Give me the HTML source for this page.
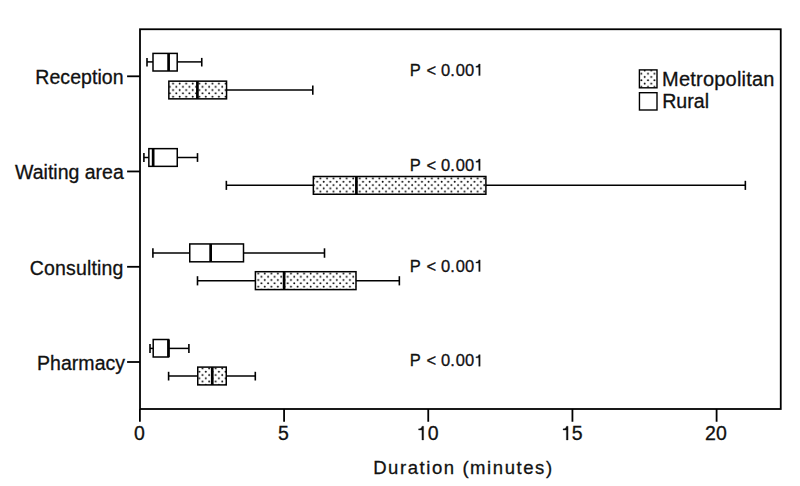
<!DOCTYPE html>
<html><head><meta charset="utf-8"><style>
html,body{margin:0;padding:0;background:#fff;}
body{width:800px;height:486px;overflow:hidden;font-family:"Liberation Sans",sans-serif;}
svg{display:block;}
</style></head><body>
<svg width="800" height="486" viewBox="0 0 800 486">
<defs><pattern id="dots" patternUnits="userSpaceOnUse" x="171.5" y="81.9" width="6.55" height="6.55"><circle cx="1.6" cy="1.6" r="0.95" fill="#000"/><circle cx="4.875" cy="4.875" r="0.95" fill="#000"/></pattern></defs>
<g stroke="#000" fill="none" stroke-linecap="butt">
<rect x="140" y="29.25" width="640.75" height="379.75" fill="none" stroke-width="1.8"/>
<line x1="139.9" y1="409" x2="139.9" y2="421.75" stroke-width="1.8"/>
<line x1="284.08" y1="409" x2="284.08" y2="421.75" stroke-width="1.8"/>
<line x1="428.25" y1="409" x2="428.25" y2="421.75" stroke-width="1.8"/>
<line x1="572.43" y1="409" x2="572.43" y2="421.75" stroke-width="1.8"/>
<line x1="716.6" y1="409" x2="716.6" y2="421.75" stroke-width="1.8"/>
<line x1="127.1" y1="76.3" x2="140" y2="76.3" stroke-width="1.8"/>
<line x1="127.1" y1="171.45" x2="140" y2="171.45" stroke-width="1.8"/>
<line x1="127.1" y1="266.8" x2="140" y2="266.8" stroke-width="1.8"/>
<line x1="127.1" y1="362.0" x2="140" y2="362.0" stroke-width="1.8"/>
<line x1="147.0" y1="61.9" x2="153.0" y2="61.9" stroke-width="1.5"/>
<line x1="147.0" y1="57.9" x2="147.0" y2="66.5" stroke-width="1.6"/>
<line x1="177.2" y1="61.9" x2="201.75" y2="61.9" stroke-width="1.5"/>
<line x1="201.75" y1="57.9" x2="201.75" y2="66.5" stroke-width="1.6"/>
<rect x="153.0" y="53.4" width="24.2" height="17.6" fill="#fff" stroke-width="1.5"/>
<line x1="168.6" y1="53.4" x2="168.6" y2="71.0" stroke-width="2.7"/>
<line x1="226.55" y1="89.9" x2="312.8" y2="89.9" stroke-width="1.5"/>
<line x1="312.8" y1="85.6" x2="312.8" y2="94.75" stroke-width="1.6"/>
<rect x="168.85" y="81.15" width="57.7" height="17.7" fill="url(#dots)" stroke-width="1.5"/>
<line x1="197.4" y1="81.15" x2="197.4" y2="98.85" stroke-width="2.7"/>
<line x1="143.9" y1="157.5" x2="148.85" y2="157.5" stroke-width="1.5"/>
<line x1="143.9" y1="153.1" x2="143.9" y2="161.9" stroke-width="1.6"/>
<line x1="177.25" y1="157.5" x2="197.5" y2="157.5" stroke-width="1.5"/>
<line x1="197.5" y1="153.1" x2="197.5" y2="161.9" stroke-width="1.6"/>
<rect x="148.85" y="148.65" width="28.4" height="17.7" fill="#fff" stroke-width="1.5"/>
<line x1="153.15" y1="148.65" x2="153.15" y2="166.35" stroke-width="2.7"/>
<line x1="226.35" y1="185.3" x2="313.35" y2="185.3" stroke-width="1.5"/>
<line x1="226.35" y1="180.8" x2="226.35" y2="189.9" stroke-width="1.6"/>
<line x1="485.9" y1="185.3" x2="745.35" y2="185.3" stroke-width="1.5"/>
<line x1="745.35" y1="180.8" x2="745.35" y2="189.9" stroke-width="1.6"/>
<rect x="313.35" y="176.5" width="172.55" height="17.75" fill="url(#dots)" stroke-width="1.5"/>
<line x1="356.4" y1="176.5" x2="356.4" y2="194.25" stroke-width="2.7"/>
<line x1="152.9" y1="253.0" x2="189.75" y2="253.0" stroke-width="1.5"/>
<line x1="152.9" y1="248.3" x2="152.9" y2="257.75" stroke-width="1.6"/>
<line x1="243.5" y1="253.0" x2="324.5" y2="253.0" stroke-width="1.5"/>
<line x1="324.5" y1="248.3" x2="324.5" y2="257.75" stroke-width="1.6"/>
<rect x="189.75" y="243.95" width="53.75" height="17.85" fill="#fff" stroke-width="1.5"/>
<line x1="210.65" y1="243.95" x2="210.65" y2="261.8" stroke-width="2.7"/>
<line x1="197.5" y1="280.8" x2="255.4" y2="280.8" stroke-width="1.5"/>
<line x1="197.5" y1="276.2" x2="197.5" y2="285.4" stroke-width="1.6"/>
<line x1="356.0" y1="280.8" x2="399.35" y2="280.8" stroke-width="1.5"/>
<line x1="399.35" y1="276.2" x2="399.35" y2="285.4" stroke-width="1.6"/>
<rect x="255.4" y="271.7" width="100.6" height="17.9" fill="url(#dots)" stroke-width="1.5"/>
<line x1="284.1" y1="271.7" x2="284.1" y2="289.6" stroke-width="2.7"/>
<line x1="150.0" y1="348.4" x2="153.2" y2="348.4" stroke-width="1.5"/>
<line x1="150.0" y1="344.0" x2="150.0" y2="353.0" stroke-width="1.6"/>
<line x1="168.6" y1="348.4" x2="188.9" y2="348.4" stroke-width="1.5"/>
<line x1="188.9" y1="344.0" x2="188.9" y2="353.0" stroke-width="1.6"/>
<rect x="153.2" y="339.5" width="15.4" height="17.5" fill="#fff" stroke-width="1.5"/>
<line x1="168.45" y1="339.5" x2="168.45" y2="357.0" stroke-width="2.7"/>
<line x1="168.6" y1="376.0" x2="197.75" y2="376.0" stroke-width="1.5"/>
<line x1="168.6" y1="371.8" x2="168.6" y2="380.5" stroke-width="1.6"/>
<line x1="226.25" y1="376.0" x2="255.3" y2="376.0" stroke-width="1.5"/>
<line x1="255.3" y1="371.8" x2="255.3" y2="380.5" stroke-width="1.6"/>
<rect x="197.75" y="367.1" width="28.5" height="17.8" fill="url(#dots)" stroke-width="1.5"/>
<line x1="212.25" y1="367.1" x2="212.25" y2="384.9" stroke-width="2.7"/>
<rect x="639.4" y="69.9" width="17.6" height="17.9" fill="url(#dots)" stroke-width="1.4"/>
<rect x="639.45" y="92.7" width="17.55" height="17.3" fill="#fff" stroke-width="1.4"/>
</g>
<g fill="#111" stroke="#111" stroke-width="0.3" font-family="'Liberation Sans', sans-serif">
<text x="123.6" y="84.1" font-size="19.5" text-anchor="end" letter-spacing="0.05">Reception</text>
<text x="123.8" y="179.3" font-size="19.5" text-anchor="end">Waiting area</text>
<text x="123.5" y="274.9" font-size="19.5" text-anchor="end" letter-spacing="0.15">Consulting</text>
<text x="125.1" y="370.0" font-size="19.5" text-anchor="end" letter-spacing="0.03">Pharmacy</text>
<text x="409.85 420.9 426.5 435.4 440.9 450.3 455.8 465.0" y="75.6" font-size="16.5">P &lt; 0.00</text>
<path transform="translate(474.25 75.6) scale(0.0165)" stroke-width="18.2" d="M359 0H271V-510H101V-572C190-575 255-610 275-703H359Z"/>
<text x="409.85 420.9 426.5 435.4 440.9 450.3 455.8 465.0" y="170.6" font-size="16.5">P &lt; 0.00</text>
<path transform="translate(474.25 170.6) scale(0.0165)" stroke-width="18.2" d="M359 0H271V-510H101V-572C190-575 255-610 275-703H359Z"/>
<text x="409.85 420.9 426.5 435.4 440.9 450.3 455.8 465.0" y="271.5" font-size="16.5">P &lt; 0.00</text>
<path transform="translate(474.25 271.5) scale(0.0165)" stroke-width="18.2" d="M359 0H271V-510H101V-572C190-575 255-610 275-703H359Z"/>
<text x="409.85 420.9 426.5 435.4 440.9 450.3 455.8 465.0" y="366.25" font-size="16.5">P &lt; 0.00</text>
<path transform="translate(474.25 366.25) scale(0.0165)" stroke-width="18.2" d="M359 0H271V-510H101V-572C190-575 255-610 275-703H359Z"/>
<text x="134.0" y="440" font-size="19.5" text-anchor="start">0</text>
<text x="278.1" y="440" font-size="19.5" text-anchor="start">5</text>
<path transform="translate(416.63 440) scale(0.0195)" stroke-width="15.4" d="M359 0H271V-510H101V-572C190-575 255-610 275-703H359Z"/>
<text x="427.78" y="440" font-size="19.5" text-anchor="start">0</text>
<path transform="translate(561.08 440) scale(0.0195)" stroke-width="15.4" d="M359 0H271V-510H101V-572C190-575 255-610 275-703H359Z"/>
<text x="571.85" y="440" font-size="19.5" text-anchor="start">5</text>
<text x="705.08 716.03" y="440" font-size="19.5">20</text>
<text x="662.0" y="85.5" font-size="20" text-anchor="start" letter-spacing="0.22">Metropolitan</text>
<text x="662.2" y="108.3" font-size="19.6" text-anchor="start">Rural</text>
<text x="373.2" y="473.8" font-size="18.5" text-anchor="start" letter-spacing="1.57">Duration (minutes)</text>
</g>
</svg>
</body></html>
